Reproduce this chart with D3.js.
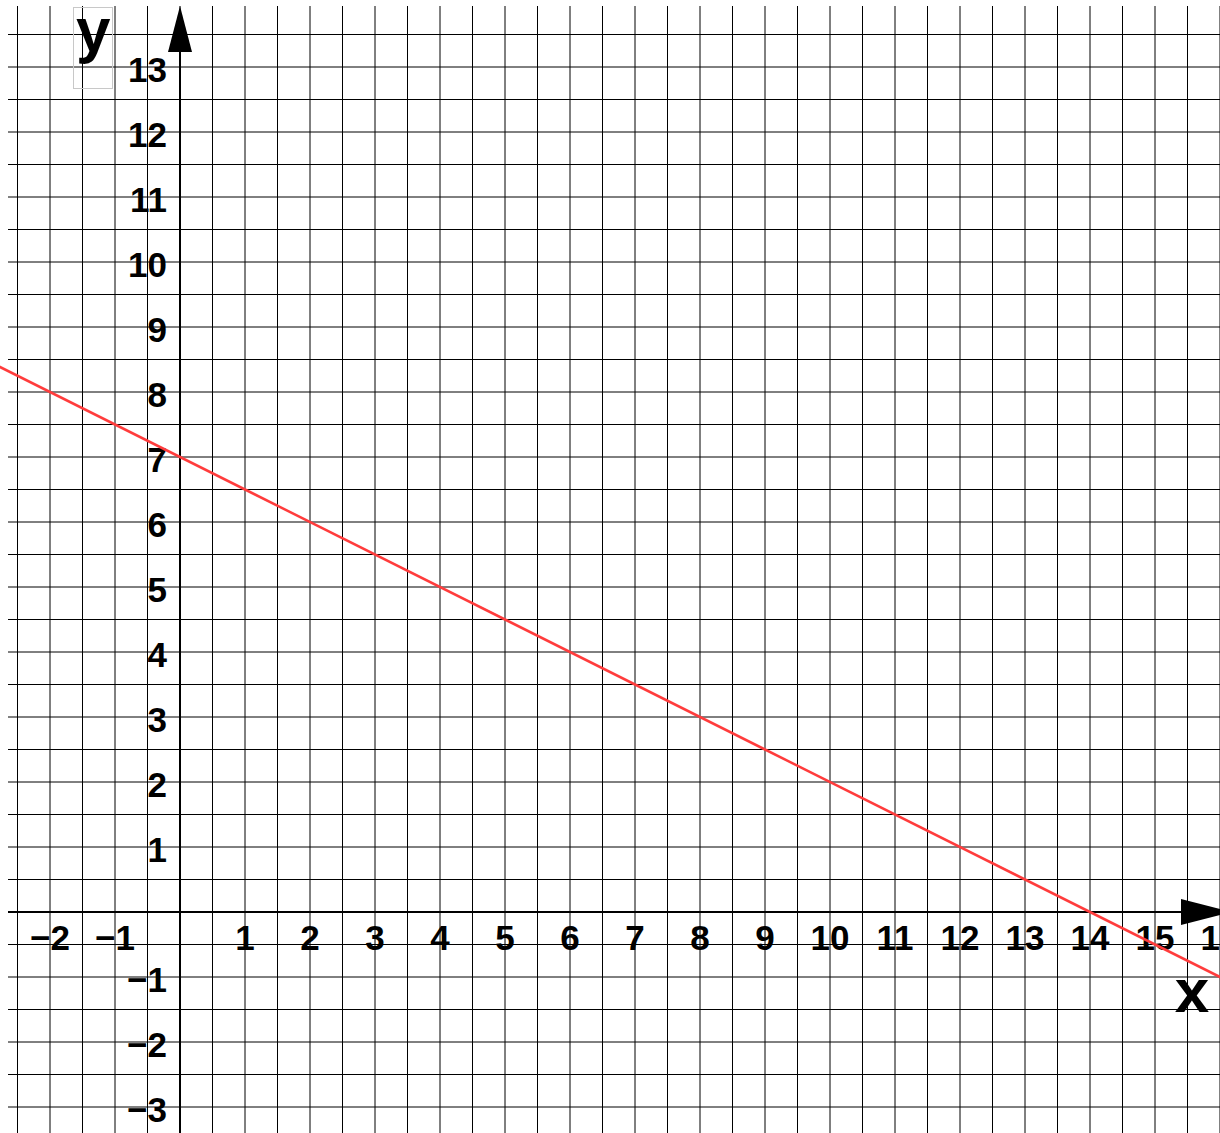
<!DOCTYPE html>
<html>
    <head>
        <meta charset="utf-8">
        <title>Line graph</title>
        <script src="https://d3js.org/d3.v7.min.js"></script>
        <style>
            body { margin: 0; background: #fff; }
            svg { display: block; }
            .lbl { font-family: 'Liberation Sans', Arial, sans-serif; font-weight: bold; fill: #000; }
        </style>
    </head>
    <body>
        <script type='text/javascript'>
            var w = 1220;
            var h = 1133;

            // tick labels on the axes
            var xTicks = [-2, -1, 1, 2, 3, 4, 5, 6, 7, 8, 9, 10, 11, 12, 13, 14, 15, 16];
            var yTicks = [-3, -2, -1, 1, 2, 3, 4, 5, 6, 7, 8, 9, 10, 11, 12, 13];

            // grid every half unit
            var xGrid = d3.range(-2.5, 16.5, 0.5);
            var yGrid = d3.range(-3, 14, 0.5);

            // the red line, y = 7 - x/2, through these two points
            var lineX = [-4, 18];
            var lineY = [9, -2];

            //Create scales (65px per unit)
            var xScale = d3.scaleLinear()
                            .domain([0, 14])
                            .range([180, 1090]);

            var yScale = d3.scaleLinear()
                            .domain([0, 13])
                            .range([912, 67]);

            var svg = d3.select('body')
                        .append('svg')
                        .attr('width', w)
                        .attr('height', h);

            //Grid
            svg.selectAll('line.vgrid')
                .data(xGrid)
                .enter()
                .append('line')
                .attr('class', 'vgrid')
                .attr('x1', function(d) { return xScale(d); })
                .attr('x2', function(d) { return xScale(d); })
                .attr('y1', 6)
                .attr('y2', h)
                .attr('stroke', '#000')
                .attr('stroke-width', 1);

            svg.selectAll('line.hgrid')
                .data(yGrid)
                .enter()
                .append('line')
                .attr('class', 'hgrid')
                .attr('x1', 8)
                .attr('x2', w)
                .attr('y1', function(d) { return yScale(d); })
                .attr('y2', function(d) { return yScale(d); })
                .attr('stroke', '#000')
                .attr('stroke-width', 1);

            //Axes
            svg.append('line')
                .attr('x1', 8).attr('x2', w)
                .attr('y1', yScale(0)).attr('y2', yScale(0))
                .attr('stroke', '#000').attr('stroke-width', 2);

            svg.append('line')
                .attr('x1', xScale(0)).attr('x2', xScale(0))
                .attr('y1', 30).attr('y2', h)
                .attr('stroke', '#000').attr('stroke-width', 2);

            //Arrow heads
            var ax = xScale(0), ay = yScale(0);
            svg.append('path')
                .attr('d', 'M' + ax + ',6 L' + (ax - 12) + ',52 L' + (ax + 12) + ',52 Z')
                .attr('fill', '#000');
            svg.append('path')
                .attr('d', 'M1232,' + ay + ' L1181,' + (ay - 13) + ' L1181,' + (ay + 13) + ' Z')
                .attr('fill', '#000');

            //Tick labels
            svg.selectAll('text.xt')
                .data(xTicks)
                .enter()
                .append('text')
                .attr('class', 'lbl xt')
                .attr('x', function(d) { return xScale(d); })
                .attr('y', 950)
                .attr('text-anchor', 'middle')
                .attr('font-size', '35px')
                .text(function(d) { return d < 0 ? '\u2212' + (-d) : d; });

            svg.selectAll('text.yt')
                .data(yTicks)
                .enter()
                .append('text')
                .attr('class', 'lbl yt')
                .attr('x', 167)
                .attr('y', function(d) { return yScale(d) + 15; })
                .attr('text-anchor', 'end')
                .attr('font-size', '35px')
                .text(function(d) { return d < 0 ? '\u2212' + (-d) : d; });

            //Red line
            svg.append('line')
                .attr('x1', xScale(lineX[0])).attr('y1', yScale(lineY[0]))
                .attr('x2', xScale(lineX[1])).attr('y2', yScale(lineY[1]))
                .attr('stroke', '#ff3c3c')
                .attr('stroke-width', 2.5);

            //Axis names
            svg.append('rect')
                .attr('x', 73.5).attr('y', 7.5)
                .attr('width', 39).attr('height', 81)
                .attr('fill', 'none')
                .attr('stroke', '#c8c8c8')
                .attr('stroke-width', 1);

            svg.append('text')
                .attr('class', 'lbl')
                .attr('x', 76)
                .attr('y', 51)
                .attr('font-size', '62px')
                .text('y');

            svg.append('text')
                .attr('class', 'lbl')
                .attr('x', 1192)
                .attr('y', 1012)
                .attr('text-anchor', 'middle')
                .attr('font-size', '62px')
                .text('x');
        </script>
    </body>
</html>
